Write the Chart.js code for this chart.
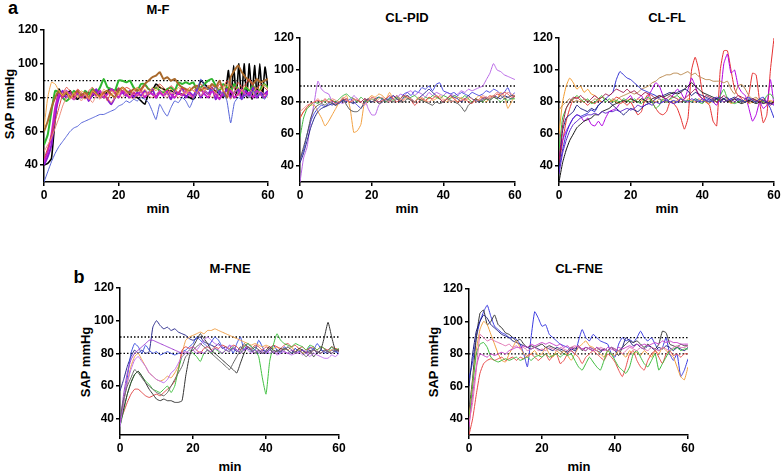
<!DOCTYPE html>
<html><head><meta charset="utf-8">
<script src="https://cdn.jsdelivr.net/npm/chart.js@4"></script>
<style>
body{margin:0;background:#fff;width:784px;height:473px;position:relative;overflow:hidden;font-family:"Liberation Sans",Arial,sans-serif;}
canvas{position:absolute;}
.t{position:absolute;font-weight:bold;line-height:1;white-space:nowrap;transform:translate(-50%,-50%);color:#000;font-size:13px;}
.v{transform:translate(-50%,-50%) rotate(-90deg);}
.big{font-size:18px;}
</style></head><body>
<div class="t big" style="left:13px;top:8px">a</div>
<div class="t big" style="left:79px;top:277px">b</div>
<div class="t" style="left:158px;top:9px">M-F</div>
<div class="t" style="left:407px;top:17px">CL-PID</div>
<div class="t" style="left:667px;top:17px">CL-FL</div>
<div class="t" style="left:230px;top:268px">M-FNE</div>
<div class="t" style="left:579px;top:268px">CL-FNE</div>
<div class="t v" style="left:9px;top:104px">SAP mmHg</div>
<div class="t v" style="left:85px;top:362px">SAP mmHg</div>
<div class="t v" style="left:433px;top:362px">SAP mmHg</div>
<div class="t" style="left:158px;top:208px">min</div>
<div class="t" style="left:407px;top:208px">min</div>
<div class="t" style="left:667px;top:208px">min</div>
<div class="t" style="left:230px;top:466px">min</div>
<div class="t" style="left:579px;top:466px">min</div>
<script>
const minutes = [0,1,2,3,4,5,6,7,8,9,10,11,12,13,14,15,16,17,18,19,20,21,22,23,24,25,26,27,28,29,30,31,32,33,34,35,36,37,38,39,40,41,42,43,44,45,46,47,48,49,50,51,52,53,54,55,56,57,58,59,60];
const xTickValues = [0,20,40,60];
const yTickValues = [40,60,80,100,120];
const targetLow = 80, targetHigh = 90;

// ---- M-F ----
const mfBlue = [30,36,42,47,51,54,57,60,62,63,65,66,67,68,69,70,70,71,72,73,75,76,78,77,79,78,80,79,77,72,67,76,72,69,74,78,77,80,78,74,79,84,91,87,85,84,86,82,83,78,65,77,80,79,82,80,84,81,83,79,82];
const mfOrange = [62,80,89,88,84,81,84,79,83,80,84,82,79,84,82,80,85,83,81,84,82,86,83,81,84,86,83,85,82,86,84,87,84,82,85,83,86,84,82,86,84,83,86,84,87,85,83,86,84,88,85,83,86,84,87,85,83,86,84,88,85];
const mfRed = [44,50,58,66,74,82,86,84,80,85,83,79,84,86,82,80,83,78,84,82,86,84,86,85,82,86,84,87,85,84,86,88,86,84,87,85,83,86,84,86,84,86,88,85,87,86,84,88,86,90,88,85,89,86,88,91,87,85,88,86,84];
const mfSalmon = [48,52,56,62,68,75,80,82,79,81,78,82,80,77,81,79,82,80,77,80,82,80,83,81,79,82,80,83,81,80,82,84,82,80,83,82,80,82,84,82,80,83,81,84,82,80,83,81,84,82,79,83,81,84,82,80,83,81,84,82,80];
const mfBlackMinutes = [0,1,2,3,4,5,6,7,8,9,10,11,12,13,14,15,16,17,18,19,20,21,22,23,24,25,26,27,28,29,30,31,32,33,34,35,36,37,38,39,40,41,42,43,44,45,46,47,48,48.7,49.4,50.1,50.8,51.5,52.2,52.9,53.6,54.3,55,55.7,56.4,57.1,57.8,58.5,59.2,60];
const mfBlack = [40,41,44,68,85,80,82,84,80,79,82,80,83,81,84,82,80,84,85,84,85,84,82,82,81,80,78,76,82,84,88,86,85,84,84,83,82,82,81,80,79,83,90,88,86,85,84,82,80,84,96,80,99,80,100,79,100,80,100,79,99,80,100,80,98,85];
const mfGreen = [52,58,72,84,83,80,78,80,84,82,80,84,82,85,83,86,91,86,85,84,90,90,89,90,86,84,88,88,85,84,86,84,83,85,86,84,89,88,89,88,89,84,86,88,90,91,87,84,88,86,84,88,85,83,86,84,87,83,85,88,86];
const mfPurple = [40,45,52,70,80,84,80,83,79,84,81,83,78,82,85,80,83,79,76,80,85,83,81,84,80,83,81,84,82,85,80,84,81,83,79,84,82,86,80,83,81,85,80,84,82,86,79,84,81,85,80,83,85,79,84,81,86,80,83,82,84];
const mfMagenta = [42,48,58,74,82,80,84,81,79,83,80,82,79,83,81,84,80,82,85,83,80,84,82,80,83,81,84,80,83,82,80,83,81,84,82,80,83,81,84,82,80,83,85,82,80,84,82,79,83,81,84,80,82,85,81,83,80,84,82,80,83];
const mfBrown = [60,66,74,80,84,81,83,80,82,84,81,83,80,84,82,81,83,84,82,80,84,86,84,83,85,84,85,88,90,92,93,95,91,92,90,91,88,86,85,84,86,87,84,86,85,88,86,90,84,80,92,96,99,95,92,90,88,91,89,90,91];

// ---- CL-PID ----
const pidViolet = [30,45,52,68,80,93,88,86,85,80,78,80,79,82,80,84,82,80,82,76,72,72,78,80,82,80,84,82,85,84,86,87,84,86,85,83,86,84,86,85,84,86,85,84,85,87,86,88,87,88,89,90,94,98,104,100,99,97,96,95,94];
const pidOrange = [70,74,76,78,78,74,70,65,68,72,76,80,82,84,76,61,62,66,80,82,84,83,85,84,82,86,82,84,80,82,84,82,80,83,82,80,83,81,82,84,82,80,83,82,80,83,81,82,80,82,84,82,80,83,84,82,86,84,76,80,84];
const pidBlue = [44,50,60,68,73,76,78,77,79,78,80,79,81,80,82,80,78,76,79,82,80,81,80,82,81,83,82,84,82,85,86,84,87,86,89,88,90,87,91,92,87,86,85,86,84,86,85,84,86,85,84,85,87,86,88,87,85,86,89,84,86];
const pidNavy = [42,48,56,64,70,74,76,77,78,79,78,80,81,82,80,79,81,80,82,81,80,82,83,82,80,82,84,82,80,83,84,82,80,82,84,86,88,86,84,82,80,82,84,83,82,80,82,84,82,81,80,82,83,82,84,83,82,84,83,82,84];
const pidGreen = [58,70,76,78,80,79,81,80,82,81,80,82,84,85,83,82,80,83,81,80,82,81,83,82,80,82,81,83,82,84,82,83,84,82,81,83,82,84,83,82,84,83,82,84,83,82,84,82,80,82,81,80,82,81,83,82,80,82,81,82,82];
const pidRed = [70,74,77,79,80,81,80,82,80,81,79,80,82,81,80,82,81,80,82,81,83,82,80,81,82,84,82,80,82,84,83,81,78,80,82,81,83,82,84,82,80,82,84,82,80,81,82,80,79,82,81,83,82,84,83,85,84,86,85,83,84];
const pidGray = [44,52,60,70,76,78,79,78,80,79,78,80,82,78,75,74,74,76,80,82,80,81,79,80,82,81,80,82,81,80,82,81,80,82,81,80,79,78,80,79,80,82,81,80,79,77,74,78,80,82,80,81,82,81,83,82,84,82,83,84,84];
const pidSalmon = [74,76,78,79,80,82,80,81,80,82,81,80,83,82,80,81,82,80,78,81,82,80,82,83,81,80,82,84,82,81,83,82,80,82,83,81,80,82,84,83,81,82,80,81,83,82,81,83,82,80,82,84,83,82,84,86,85,84,86,85,84];

// ---- CL-FL ----
const flRed = [40,55,68,76,82,83,81,80,78,80,79,81,80,82,80,81,83,82,80,78,80,76,72,74,82,85,80,76,73,72,74,80,79,76,70,63,70,100,108,100,86,80,78,68,65,100,112,112,100,88,84,82,80,85,98,97,80,67,72,100,120];
const flMagenta = [45,56,62,66,70,72,71,68,70,66,65,68,65,70,74,75,76,79,80,82,84,80,82,84,80,84,88,92,90,84,80,82,85,88,86,82,88,95,90,84,82,80,82,80,78,84,104,110,98,100,90,86,84,76,68,72,80,76,78,94,78];
const flBrown = [75,78,80,82,80,81,80,82,81,80,82,81,83,82,80,82,81,83,84,85,86,85,86,88,89,90,92,93,95,96,97,97,98,98,97,98,99,97,98,96,95,94,94,93,93,93,92,93,88,85,90,91,88,84,82,83,81,80,79,80,80];
const flOrange = [60,80,90,95,92,88,90,86,88,85,84,82,80,82,80,81,80,79,80,81,82,80,82,81,80,82,81,80,82,81,80,82,80,81,83,80,82,81,80,82,81,80,79,81,80,82,80,81,79,80,82,80,81,79,80,82,80,79,80,81,80];
const flBlue = [38,50,60,66,70,72,71,72,73,75,74,78,80,82,84,86,94,99,97,95,94,92,90,88,87,86,85,84,82,80,82,80,81,80,82,80,81,80,82,81,80,82,81,80,82,80,82,83,80,82,81,80,82,83,81,80,82,83,80,76,70];
const flNavy = [40,62,70,72,74,78,76,75,74,76,75,78,80,82,80,78,76,74,72,74,76,75,74,76,78,79,80,82,83,84,85,86,85,86,87,88,87,84,86,85,84,83,82,81,82,83,82,81,82,83,82,81,80,81,82,81,80,79,80,79,80];
const flBlack = [30,42,50,56,60,64,66,68,69,70,72,72,74,75,76,78,79,80,81,80,82,81,80,82,81,80,82,83,84,83,84,85,86,85,86,88,90,92,90,88,86,85,84,83,82,81,82,80,81,82,80,79,80,81,80,79,80,81,80,79,80];
const flGreen = [50,70,76,80,82,84,82,80,82,79,80,82,84,80,82,80,81,80,82,81,80,82,80,79,82,83,80,76,78,82,80,82,83,84,82,80,81,80,82,80,79,81,80,82,80,84,88,82,80,79,80,81,80,82,81,80,82,80,84,85,82];
const flDarkRed = [42,65,76,80,83,82,84,82,80,82,84,82,83,85,84,86,88,87,86,88,86,87,85,84,86,85,84,82,84,83,82,84,83,82,80,82,84,86,88,85,82,84,83,82,80,82,84,82,80,82,84,83,82,80,82,81,80,82,80,78,80];
const flIndigo = [35,48,56,62,66,68,70,71,72,72,73,72,74,73,74,74,75,74,75,76,75,76,78,77,78,79,78,80,79,80,81,80,79,80,82,81,80,82,81,80,82,81,80,82,83,82,80,81,82,80,82,81,80,82,81,80,82,81,80,79,78];

// ---- M-FNE ----
const fneNavy = [57,64,72,78,82,80,82,80,81,96,100,97,95,96,94,95,93,92,91,89,88,89,90,87,86,85,84,86,83,84,82,83,81,84,82,83,81,82,80,82,81,83,80,82,81,83,82,80,83,81,82,80,81,83,80,82,81,80,82,81,82];
const fneBlue = [35,50,65,80,86,84,80,85,82,80,81,79,80,81,80,79,80,81,82,84,86,90,88,86,84,87,90,88,84,82,85,80,86,90,82,86,84,82,88,84,80,82,85,82,80,84,82,80,83,81,82,80,84,82,86,83,80,82,84,81,80];
const fneOrange = [35,50,62,72,78,80,76,72,68,66,64,63,64,66,65,68,72,80,88,90,91,92,93,92,94,94,95,94,93,92,91,90,89,88,87,86,85,86,85,84,85,84,83,84,82,83,82,84,81,83,80,81,80,82,81,80,82,81,82,83,82];
const fneRed = [38,44,50,55,58,58,56,54,53,54,55,54,56,58,60,63,70,82,84,83,84,82,80,83,84,82,84,83,85,84,83,85,84,82,85,84,83,85,84,82,84,83,85,84,83,85,86,84,85,83,84,82,83,84,82,84,83,82,84,83,82];
const fneGreen = [35,45,55,62,67,69,66,63,61,58,57,56,58,60,56,60,70,78,80,82,80,78,75,80,82,80,83,81,80,82,81,84,82,80,84,86,84,82,78,65,55,75,85,92,88,86,85,84,86,85,84,82,85,84,82,84,83,81,84,82,83];
const fneBlack = [36,46,55,62,67,69,66,62,58,55,52,51,52,51,51,50,50,51,66,78,84,88,92,89,86,82,80,78,76,74,72,70,68,74,80,84,82,84,82,80,82,84,82,81,83,82,84,82,80,83,82,80,82,78,80,82,90,99,90,82,82];
const fneViolet = [35,50,62,70,76,78,75,72,68,66,64,63,62,64,68,70,74,78,80,82,84,82,85,88,90,88,86,85,84,82,85,84,82,81,83,82,80,82,81,80,82,80,81,79,80,81,80,79,80,81,79,80,78,80,79,78,77,77,79,78,80];
const fnePurple = [38,55,68,76,80,82,84,86,88,88,87,86,85,84,83,82,81,80,81,80,82,80,81,80,82,81,83,82,80,82,81,83,82,80,82,84,82,80,82,81,80,82,81,80,82,81,80,82,81,80,82,81,80,82,81,80,82,81,80,82,81];
const fneGray = [40,52,60,65,70,68,65,62,60,58,56,55,54,56,60,64,68,72,78,80,82,84,86,84,82,80,78,76,74,72,70,74,78,82,86,84,82,80,82,80,81,83,80,82,81,83,82,80,81,82,80,78,80,82,81,80,82,81,80,82,81];

// ---- CL-FNE ----
const clBlue = [65,75,90,100,106,110,103,97,95,93,92,90,90,89,86,80,72,90,106,102,97,98,92,90,88,86,85,84,82,80,88,95,90,88,92,90,88,87,86,80,78,86,90,88,89,87,90,94,90,88,90,86,82,84,90,80,76,80,66,70,77];
const clBlack = [45,65,90,105,107,98,100,104,98,96,93,92,90,88,89,86,84,85,84,85,86,84,85,84,83,82,80,82,84,83,85,82,84,83,82,84,82,83,82,84,82,79,84,86,88,87,88,86,84,86,84,83,86,94,93,86,85,84,86,85,85];
const clNavy = [60,80,94,100,104,102,98,96,94,92,91,90,88,87,86,85,84,83,84,83,82,84,83,82,84,83,82,81,83,82,84,83,82,84,83,82,81,83,82,84,83,82,84,90,88,85,86,84,83,85,84,82,84,83,85,84,82,84,83,82,84];
const clOrange = [40,62,82,95,100,98,92,86,80,76,75,80,84,88,84,80,78,80,82,79,80,84,80,78,82,80,82,79,76,80,84,86,88,85,84,82,80,78,82,80,79,82,80,78,82,80,81,79,82,80,78,82,80,84,82,80,78,72,66,64,72];
const clRed = [30,40,55,68,74,76,77,76,77,78,76,77,78,76,78,77,79,80,78,76,78,80,76,79,80,74,76,80,82,80,78,74,78,80,82,80,78,76,80,78,75,70,66,72,80,82,76,72,70,76,80,82,78,74,80,82,79,80,78,80,80];
const clGreen = [38,60,80,86,87,84,78,76,75,76,77,76,77,78,76,77,78,76,78,79,78,80,78,79,80,78,80,79,80,76,72,70,74,78,75,72,70,76,82,80,76,72,70,68,72,80,82,78,74,72,76,80,70,74,78,82,83,84,82,83,83];
const clMagenta = [35,55,72,80,79,78,80,79,80,81,80,82,83,84,84,85,84,86,85,86,87,86,87,86,85,86,84,85,83,84,85,83,84,83,82,84,83,82,84,83,82,84,83,84,85,84,86,85,86,85,86,87,86,88,87,88,87,87,86,86,86];
const clPink = [38,50,70,92,90,88,89,88,87,86,85,86,84,85,83,84,82,83,84,82,83,82,84,83,82,84,83,82,84,85,84,83,82,84,83,82,84,83,82,84,83,82,80,82,84,83,82,84,83,82,84,83,82,84,83,82,84,85,84,84,85];

const FONT = {family:'"Liberation Sans", Arial, sans-serif', weight:'bold', size:12};

const panels = [
  {L:44, R:268, T:30, B:182, series:[
    [mfBlue,'#5563d8',1],[mfOrange,'#f2a74e',1],[mfSalmon,'#ee8a78',1],[mfRed,'#e0463c',1],
    [mfBrown,'#a8692c',2],[mfMagenta,'#c81fc9',2],[mfPurple,'#8a1ed2',2],[mfGreen,'#2fb52f',2],
    [mfBlack,'#000000',1.6,mfBlackMinutes]]},
  {L:300, R:515, T:38, B:182, series:[
    [pidSalmon,'#f08a80',1],[pidGray,'#555555',1],[pidRed,'#e04040',1],[pidGreen,'#44b844',1],
    [pidNavy,'#22228a',1],[pidBlue,'#4848e0',1],[pidOrange,'#f2a040',1],[pidViolet,'#b866e6',1]]},
  {L:559, R:774, T:38, B:182, series:[
    [flIndigo,'#5a20cc',1],[flDarkRed,'#a0184c',1],[flGreen,'#3cbf3c',1],[flBlack,'#111111',1],
    [flNavy,'#16167c',1],[flBlue,'#2e2ed2',1],[flOrange,'#f29a2e',1],[flBrown,'#b8864a',1],
    [flMagenta,'#b000e0',1],[flRed,'#e52f2f',1]]},
  {L:120, R:339, T:288, B:435, series:[
    [fneGray,'#666666',1],[fnePurple,'#a040d0',1],[fneViolet,'#c070ee',1],[fneBlack,'#333333',1],
    [fneGreen,'#40c040',1],[fneRed,'#e04848',1],[fneOrange,'#f0a048',1],[fneBlue,'#3c50e0',1],
    [fneNavy,'#2b2b8c',1]]},
  {L:469, R:688, T:289, B:435, series:[
    [clPink,'#e070b0',1],[clMagenta,'#c83cc8',1],[clGreen,'#3cbb3c',1],[clRed,'#e84a4a',1],
    [clOrange,'#f0a040',1],[clNavy,'#1a1a7a',1],[clBlack,'#333333',1],[clBlue,'#3b3be0',1]]}
];

const padTop = 10, padRight = 14, yW = 40, xH = 24;
panels.forEach(p => {
  const c = document.createElement('canvas');
  const w = (p.R - p.L) + yW + padRight, h = (p.B - p.T) + padTop + xH;
  c.width = w; c.height = h;
  c.style.left = (p.L - yW) + 'px'; c.style.top = (p.T - padTop) + 'px';
  c.style.width = w + 'px'; c.style.height = h + 'px';
  document.body.appendChild(c);
  const datasets = p.series.map(s => {
    const t = s[3] || minutes;
    return {data: s[0].map((v, i) => ({x: t[i], y: v})), borderColor: s[1], borderWidth: s[2],
      pointRadius: 0, tension: 0.15, fill: false};
  });
  [targetLow, targetHigh].forEach(v => datasets.push({
    data: [{x: 0, y: v}, {x: 60, y: v}], borderColor: '#000', borderWidth: 1.3,
    borderDash: [1.5, 2], pointRadius: 0, fill: false}));
  const axisCommon = {
    ticks: {font: FONT, color: '#000', padding: 2, autoSkip: false, maxRotation: 0},
    grid: {display: true, drawOnChartArea: false, drawTicks: true, tickLength: 4, color: '#000', lineWidth: 1.5},
    border: {display: true, color: '#000', width: 1.5}
  };
  new Chart(c, {
    type: 'line',
    data: {datasets},
    options: {
      responsive: false, animation: false, devicePixelRatio: 1,
      layout: {padding: {top: padTop, right: padRight, left: 0, bottom: 0}},
      plugins: {legend: {display: false}, tooltip: {enabled: false}},
      scales: {
        x: Object.assign({type: 'linear', min: 0, max: 60,
          afterBuildTicks: s => { s.ticks = xTickValues.map(v => ({value: v})); },
          afterFit: s => { s.height = xH; }}, JSON.parse(JSON.stringify(axisCommon))),
        y: Object.assign({type: 'linear', min: 30, max: 120,
          afterBuildTicks: s => { s.ticks = yTickValues.map(v => ({value: v})); },
          afterFit: s => { s.width = yW; }}, JSON.parse(JSON.stringify(axisCommon)))
      }
    }
  });
});
</script>
</body></html>
